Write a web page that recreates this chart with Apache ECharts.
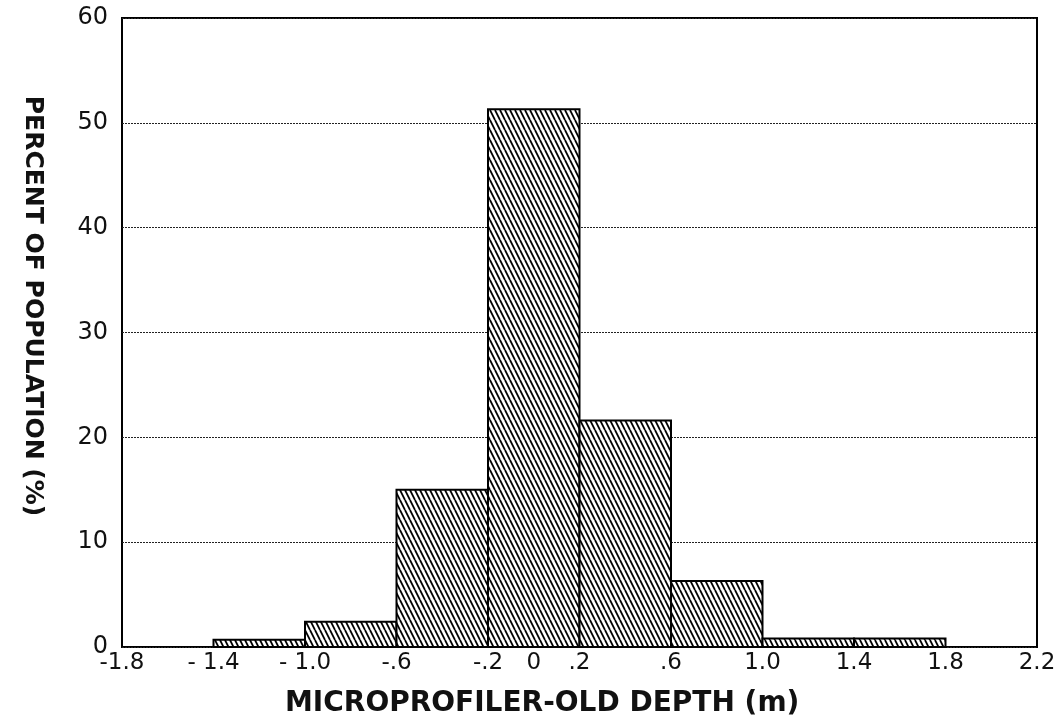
<!DOCTYPE html>
<html>
<head>
<meta charset="utf-8">
<script src="https://cdn.jsdelivr.net/npm/echarts@6/dist/echarts.min.js"></script>
<style>
  html, body { margin: 0; padding: 0; background: #fff; }
  #chart { width: 1064px; height: 721px; }
</style>
</head>
<body>
<div id="chart"></div>
<script>
// histogram bins (m) and percent of population
const binStart = [-1.4, -1.0, -0.6, -0.2, 0.2, 0.6, 1.0, 1.4];
const binEnd = [-1.0, -0.6, -0.2, 0.2, 0.6, 1.0, 1.4, 1.8];
const percent = [0.7, 2.4, 15.0, 51.3, 21.6, 6.3, 0.8, 0.8];

const xTickLabels = { '-1.8': '-1.8', '-1.4': '- 1.4', '-1': '- 1.0', '-0.6': '-.6', '-0.2': '-.2',
  '0': '0', '0.2': '.2', '0.6': '.6', '1': '1.0', '1.4': '1.4', '1.8': '1.8', '2.2': '2.2' };

// hatch pattern ( \\\ )
const makeHatch = () => {
  const c = document.createElement('canvas');
  c.width = 5; c.height = 10;
  const ctx = c.getContext('2d');
  ctx.fillStyle = '#fff';
  ctx.fillRect(0, 0, 5, 10);
  ctx.strokeStyle = '#000';
  ctx.lineWidth = 1.8;
  [-5, 0, 5].forEach(dx => {
    ctx.beginPath();
    ctx.moveTo(dx, 0);
    ctx.lineTo(dx + 5, 10);
    ctx.stroke();
  });
  return c;
};
const hatch = makeHatch();

const chart = echarts.init(document.getElementById('chart'));
const font = '"DejaVu Sans", "Liberation Sans", sans-serif';

chart.setOption({
  animation: false,
  grid: { left: 122, right: 27, top: 18, bottom: 74, show: true, borderColor: '#000', borderWidth: 2 },
  xAxis: {
    type: 'value', min: -1.8, max: 2.2, interval: 0.2,
    axisLine: { show: false }, axisTick: { show: false }, splitLine: { show: false },
    axisLabel: {
      margin: 5, fontSize: 23, color: '#111', fontFamily: font,
      formatter: v => {
        const k = String(Math.round(v * 10) / 10);
        return xTickLabels[k] !== undefined ? xTickLabels[k] : '';
      }
    }
  },
  yAxis: {
    type: 'value', min: 0, max: 60, interval: 10,
    axisLine: { show: false }, axisTick: { show: false },
    splitLine: { lineStyle: { color: '#222', type: [2, 1], width: 1 } },
    axisLabel: { margin: 14, fontSize: 24, color: '#111', fontFamily: font }
  },
  graphic: [
    { type: 'text', left: 285, top: 690,
      style: { text: 'MICROPROFILER-OLD DEPTH (m)', font: 'bold 28px ' + font, fill: '#111' } },
    { type: 'text', x: 32, y: 306, rotation: -Math.PI / 2,
      style: { text: 'PERCENT OF POPULATION (%)', font: 'bold 25px ' + font, fill: '#111',
        align: 'center', verticalAlign: 'middle' } }
  ],
  series: [{
    type: 'custom',
    data: percent.map((p, i) => [binStart[i], binEnd[i], p]),
    renderItem: (params, api) => {
      const p0 = api.coord([api.value(0), api.value(2)]);
      const p1 = api.coord([api.value(1), 0]);
      return {
        type: 'rect',
        shape: { x: p0[0], y: p0[1], width: p1[0] - p0[0], height: p1[1] - p0[1] },
        style: { fill: { image: hatch, repeat: 'repeat' }, stroke: '#000', lineWidth: 2 }
      };
    }
  }]
});
</script>
</body>
</html>
